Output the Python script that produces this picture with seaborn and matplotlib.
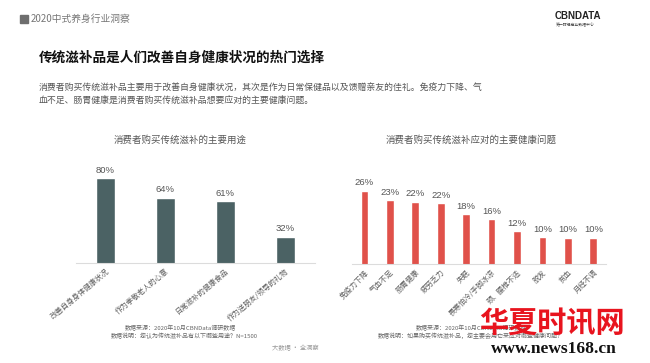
import matplotlib
matplotlib.use("Agg")
import matplotlib.pyplot as plt
import pandas as pd
import seaborn as sns

# data
use_labels = ["改善自身身体健康状况", "作为孝敬老人的心意", "日常滋补的健康食品", "作为送朋友/领导的礼物"]
use_values = [80, 64, 61, 32]

issue_labels = ["免疫力下降", "气血不足", "肠胃健康", "疲劳乏力", "失眠",
                "畏寒怕冷/手脚冰凉", "颈、腰椎不适", "脱发", "贫血", "月经不调"]
issue_values = [26, 22.7, 22.2, 21.6, 18, 16.2, 12, 10.1, 9.9, 9.9]

sns.set_style("white")
plt.rcParams['font.family'] = ['Noto Sans CJK SC', 'DejaVu Sans']

W, H = 650, 363
fig = plt.figure(figsize=(6.5, 3.63), dpi=100)
fig.patch.set_facecolor("white")


def px_axes(x0, x1, ytop, ybot):
    return fig.add_axes([x0 / W, 1 - ybot / H, (x1 - x0) / W, (ybot - ytop) / H])


def draw_bars(ax, labels, values, color, width, ylim, rot):
    df = pd.DataFrame({"item": labels, "pct": values})
    sns.barplot(data=df, x="item", y="pct", color=color, width=width,
                saturation=1, ax=ax)
    ax.set_xlim(-0.5, len(labels) - 0.5)
    ax.set_ylim(*ylim)
    ax.set_xlabel("")
    ax.set_ylabel("")
    ax.set_yticks([])
    for s in ["top", "right", "left"]:
        ax.spines[s].set_visible(False)
    ax.spines["bottom"].set_color("#dcdcdc")
    ax.spines["bottom"].set_linewidth(0.8)
    ax.tick_params(axis="x", length=0, pad=3)
    ax.set_xticks(range(len(labels)))
    ax.set_xticklabels(labels, rotation=rot, ha="right", rotation_mode="anchor",
                       fontsize=5.3, color="#5e5e5e")
    ax.bar_label(ax.containers[0], labels=[f"{v:.0f}%" for v in values],
                 padding=2.5, fontsize=6.8, color="#555555",
                 family=['Liberation Sans', 'Noto Sans CJK SC'])
    ax.patch.set_alpha(0)


ax1 = px_axes(75.7, 315, 160, 262.7)
draw_bars(ax1, use_labels, use_values, "#4b6264", 0.32, (10.6, 95), 40)

ax2 = px_axes(351.7, 606, 160, 264.3)
draw_bars(ax2, issue_labels, issue_values, "#e0514a", 0.3, (0.75, 36.5), 45)


def t(x, y, s, **kw):
    fig.text(x / W, 1 - y / H, s, **kw)


# header
fig.patches.append(plt.Rectangle((20 / W, 1 - 23 / H), 8 / W, 8 / H,
                                 transform=fig.transFigure, color="#6e6e6e"))
t(31, 19, "2020中式养身行业洞察", fontsize=7, color="#777777", va="center")
t(555, 16, "CBNDATA", fontsize=7, color="#222222", va="center", weight="bold",
  family=['Liberation Sans', 'DejaVu Sans'])
t(556, 25, "第一财经商业数据中心", fontsize=2.8, color="#444444", va="center")

t(39, 58, "传统滋补品是人们改善自身健康状况的热门选择", fontsize=9.8,
  weight="bold", color="#111111", va="center")
t(39, 88, "消费者购买传统滋补品主要用于改善自身健康状况，其次是作为日常保健品以及馈赠亲友的佳礼。免疫力下降、气",
  fontsize=6.4, color="#555555", va="center")
t(39, 101, "血不足、肠胃健康是消费者购买传统滋补品想要应对的主要健康问题。",
  fontsize=6.4, color="#555555", va="center")

# chart titles
t(180, 140, "消费者购买传统滋补的主要用途", fontsize=6.8, color="#555555",
  ha="center", va="center")
t(471, 140, "消费者购买传统滋补应对的主要健康问题", fontsize=6.8, color="#555555",
  ha="center", va="center")

# footnotes
t(180, 328, "数据来源：2020年10月CBNData调研数据", fontsize=4.3, color="#666666",
  ha="center", va="center")
t(184, 336, "数据说明：您认为传统滋补品有以下哪些用途？N=1500", fontsize=4.3,
  color="#666666", ha="center", va="center")
t(471, 328, "数据来源：2020年10月CBNData调研数据", fontsize=4.3, color="#666666",
  ha="center", va="center")
t(471, 336, "数据说明：如果购买传统滋补品，您主要会用它来应对哪些健康问题？", fontsize=4.3,
  color="#666666", ha="center", va="center")
t(295, 348, "大数据 · 全洞察", fontsize=4.5, color="#999999", ha="center", va="center")

# watermark (sits over the right footnote, as in the reference)
t(552, 323, "华夏时讯网", fontsize=21, weight="bold", color="#e8141e",
  ha="center", va="center")
t(554, 349, "www.news168.cn", fontsize=12.5, weight="bold", color="#111111",
  ha="center", va="center", family=['Liberation Serif', 'DejaVu Serif'])

fig.savefig("out.png", dpi=100)
